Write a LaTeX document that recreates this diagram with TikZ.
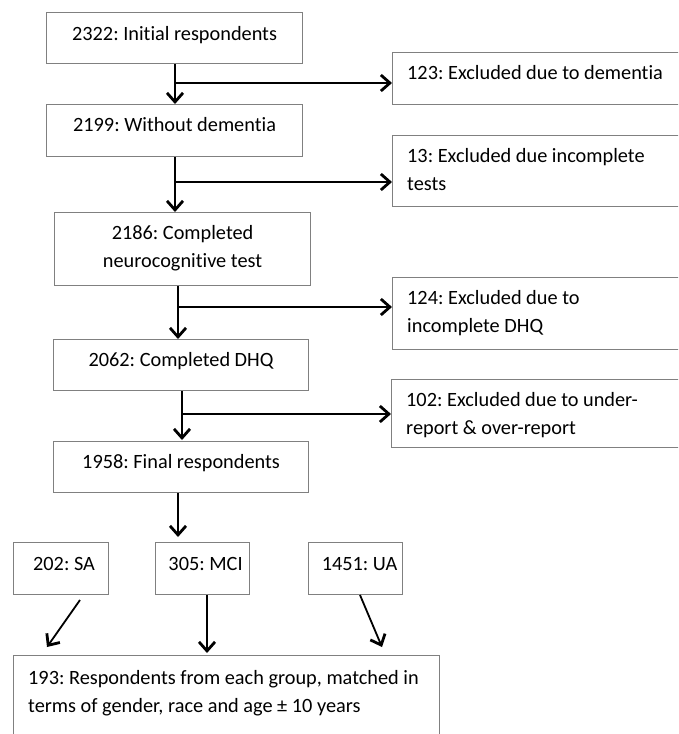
\documentclass[tikz,border=0pt]{standalone}
\usepackage{fontspec}
\setmainfont{Carlito}[Ligatures=NoCommon]
\usetikzlibrary{arrows.meta,calc}
\tikzset{
  box/.style={draw=black!50, line width=1.1pt, rectangle, inner sep=0pt, anchor=north west},
  txt/.style={inner sep=0pt, font=\fontsize{20.3}{28}\selectfont\frenchspacing},
  arr/.style={draw=black, line width=1.8pt, -{Straight Barb[length=9pt,width=16pt,line width=2.8pt]}},
  ln/.style={draw=black, line width=1.8pt}
}
\newcommand{\bx}[5]{\node[box, minimum width=#4pt, minimum height=#5pt] (#1) at (#2,#3) {};}
\begin{document}
\frenchspacing
\begin{tikzpicture}[x=1pt,y=-1pt]
\clip (0,0) rectangle (678,734);
\fill[white] (0,0) rectangle (678,734);
% main column boxes
\bx{b1}{46}{12}{256}{51}
\bx{b2}{46}{104}{256}{52}
\bx{b3}{54}{212}{256}{73}
\bx{b6}{53}{339}{255}{51}
\bx{b7}{53}{441}{255}{51}
% exclusion boxes
\bx{e1}{392}{52}{310}{52}
\bx{e2}{392}{135}{310}{71}
\bx{e3}{392}{277}{310}{72}
\bx{e4}{391}{379}{310}{68}
% groups
\bx{g1}{13}{542}{95}{52}
\bx{g2}{155}{542}{94}{52}
\bx{g3}{308}{542}{94}{52}
\bx{fin}{13}{655}{426}{110}
% texts
\node[txt, anchor=base] (t1) at ($(b1.north)+(0,28)$) {2322: Initial respondents};
\node[txt, anchor=base] (t2) at ($(b2.north)+(0,27.5)$) {2199: Without dementia};
\node[txt, anchor=base] (t3) at ($(b3.north)+(0,27.5)$) {\parbox[t]{250pt}{\centering 2186: Completed\\neurocognitive test}};
\node[txt, anchor=base] (t6) at ($(b6.north)+(0,27)$) {2062: Completed DHQ};
\node[txt, anchor=base] (t7) at ($(b7.north)+(0,27)$) {1958: Final respondents};
\node[txt, anchor=base west] (te1) at ($(e1.north west)+(15,27.5)$) {123: Excluded due to dementia};
\node[txt, anchor=base west] (te2) at ($(e2.north west)+(15,27.5)$) {\parbox[t]{280pt}{\raggedright 13: Excluded due incomplete\\tests}};
\node[txt, anchor=base west] (te3) at ($(e3.north west)+(15,27.5)$) {\parbox[t]{280pt}{\raggedright 124: Excluded due to\\incomplete DHQ}};
\node[txt, anchor=base west] (te4) at ($(e4.north west)+(15,27.5)$) {\parbox[t]{280pt}{\raggedright 102: Excluded due to under-\\report \& over-report}};
\node[txt, anchor=base] (tg1) at ($(g1.north)+(3,28.5)$) {202: SA};
\node[txt, anchor=base] (tg2) at ($(g2.north)+(3,28.5)$) {305: MCI};
\node[txt, anchor=base] (tg3) at ($(g3.north)+(4,28.5)$) {1451: UA};
\node[txt, anchor=base west] (tfin) at ($(fin.north west)+(15,29.5)$) {\parbox[t]{420pt}{\raggedright 193: Respondents from each group, matched in\\terms of gender, race and age ± 10 years}};
% junctions
\coordinate (j1) at (175,83);
\coordinate (j2) at (175,182);
\coordinate (j3) at (178,307);
\coordinate (j4) at (182,414);
% main flow
\draw[arr] (b1.south -| j1) -- (b2.north -| j1);
\draw[arr] (j1) -- (j1 -| e1.west);
\draw[arr] (b2.south -| j2) -- (b3.north -| j2);
\draw[arr] (j2) -- (j2 -| e2.west);
\draw[arr] (b3.south -| j3) -- (b6.north -| j3);
\draw[arr] (j3) -- (j3 -| e3.west);
\draw[arr] (b6.south -| j4) -- ($(b7.north -| j4)+(0,-1)$);
\draw[arr] (j4) -- (j4 -| e4.west);
% to groups
\coordinate (m1) at (178,537);
\draw[arr] (b7.south -| m1) -- (m1);
% to final
\coordinate (s1) at (80,600);
\coordinate (s1e) at (47,647);
\draw[arr] (s1) -- (s1e);
\coordinate (s2e) at (207,653);
\draw[arr] (g2.south -| s2e) -- (s2e);
\coordinate (s3) at (360,595);
\coordinate (s3e) at (382,647);
\draw[arr] (s3) -- (s3e);
\end{tikzpicture}
\end{document}
